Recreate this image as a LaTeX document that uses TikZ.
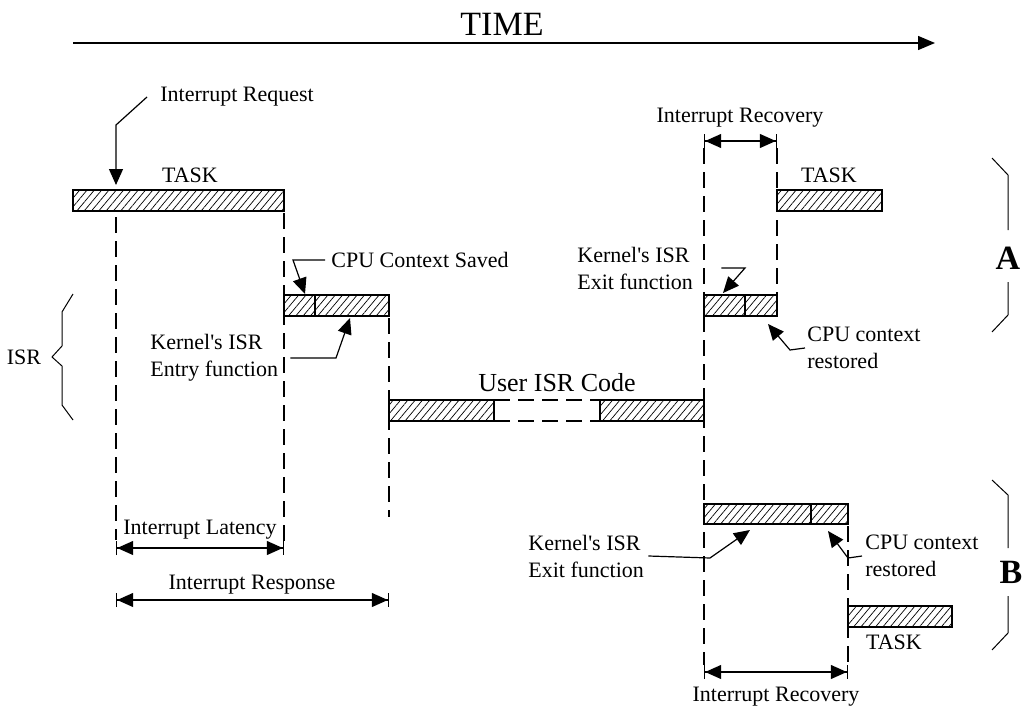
\documentclass[tikz,border=0pt]{standalone}
\usepackage{fontspec}
\setmainfont{Liberation Serif}
\usetikzlibrary{arrows.meta,patterns.meta}

\begin{document}
\begin{tikzpicture}[x=0.5pt,y=0.5pt,yscale=-1
  ,bar/.style={draw=black,line width=0.6pt,pattern={Lines[angle=50,distance=2.8pt,line width=0.35pt]}}
  ,guide/.style={color=black,line width=0.6pt,dash pattern=on 8pt off 4pt}
  ,lead/.style={color=black,line width=0.6pt,-{Triangle[length=8pt,width=7pt]}}
  ,span/.style={color=black,line width=0.6pt,{Bar[width=7pt]Triangle[length=8pt,width=7pt]}-{Triangle[length=8pt,width=7pt]Bar[width=7pt]}}
  ,brace/.style={color=black,line width=0.5pt}
  ,lbl/.style={font=\fontsize{11}{13.5}\selectfont,inner sep=0pt,color=black}
  ,note/.style={lbl,align=left,anchor=west}
  ,big/.style={inner sep=0pt,color=black,font=\fontsize{17}{20}\selectfont}
]
\useasboundingbox (0,0) rectangle (1025,712);

% --- Time axis ---
\coordinate (t0) at (73,43);
\coordinate (t1) at (935,43);
\draw[color=black,line width=0.7pt,-{Triangle[length=8.5pt,width=7pt]}] (t0) -- (t1);
\node (time) at (502,24)[big]{TIME};

% --- Task, ISR and user code bars ---
\draw[bar] (73,190) rectangle (284,211);
\draw[bar] (284,295) rectangle (315,316);
\draw[bar] (315,295) rectangle (389,316);
\draw[bar] (389,400) rectangle (494,421);
\draw[guide] (494,400) -- (600,400) (494,421) -- (600,421);
\draw[bar] (600,400) rectangle (704,421);

% case A
\draw[bar] (704,295) rectangle (745,316);
\draw[bar] (745,295) rectangle (777,316);
\draw[bar] (777,190) rectangle (882,211);

% case B
\draw[bar] (704,504) rectangle (811,524);
\draw[bar] (811,504) rectangle (848,524);
\draw[bar] (848,606) rectangle (952,627);

% --- Dashed time marks ---
\draw[guide] (116,217) -- (116,540);
\draw[guide] (284,213) -- (284,541);
\draw[guide] (389,318) -- (389,517);
\draw[guide] (704,148) -- (704,665);
\draw[guide] (777,148) -- (777,295);
\draw[guide] (848,526) -- (848,665);

% --- Spans ---
\draw[span] (116,548) -- (284,548);
\node (lat) at (200,530)[lbl]{Interrupt Latency};

\draw[span] (116,600) -- (389,600);
\node (resp) at (252,585)[lbl]{Interrupt Response};

\draw[span] (704,141) -- (777,141);
\node (recA) at (740,118)[lbl]{Interrupt Recovery};

\draw[span] (704,672) -- (848,672);
\node (recB) at (776,697)[lbl]{Interrupt Recovery};

% --- Labels with leaders ---
\node (irq) at (160,97)[lbl,anchor=west]{Interrupt Request};
\draw[lead] ([xshift=-6.5pt]irq.west) -- (116,125) -- (116,185);

\node (taskL) at (190,175)[lbl]{TASK};

\node (saved) at (331,260)[lbl,anchor=west]{CPU Context Saved};
\draw[lead] ([xshift=-3pt]saved.west) -- (293,260) -- (305,294);

\node (entry) at (150,358)[note]{Kernel\textquotesingle s ISR\\Entry function};
\draw[lead] ([xshift=6pt]entry.east) -- (336,358) -- (350,318);

\node (isr) at (24,357)[lbl]{ISR};
\draw[brace] (73,294) -- (62,312) -- (62,346) -- (52,357) -- (62,366) -- (62,405) -- (73,420);

\node (user) at (557,383)[lbl,font=\fontsize{13}{15}\selectfont]{User ISR Code};

\node (taskA) at (829,175)[lbl]{TASK};

\node (exitA) at (577,268)[note]{Kernel\textquotesingle s ISR\\Exit function};
\draw[lead] ([xshift=14pt]exitA.east) -- (745,268) -- (723,293);

\node (restA) at (807,348)[note]{CPU context\\restored};
\draw[lead] ([xshift=-1pt]restA.west) -- (790,350) -- (768,324);

\node (exitB) at (528,556)[note]{Kernel\textquotesingle s ISR\\Exit function};
\draw[lead] ([xshift=2pt]exitB.east) -- (710,558) -- (750,530);

\node (restB) at (865,556)[note]{CPU context\\restored};
\draw[lead] ([xshift=-1.5pt]restB.west) -- (848,558) -- (828,531);

\node (taskB) at (894,642)[lbl]{TASK};

% --- Braces A and B ---
\draw[brace] (992,158) -- (1008,175) -- (1008,230);
\draw[brace] (1008,282) -- (1008,315) -- (992,332);
\node (A) at (1008,258)[big,font=\fontsize{17}{20}\selectfont\bfseries]{A};

\draw[brace] (992,480) -- (1008,495) -- (1008,548);
\draw[brace] (1008,596) -- (1008,633) -- (992,650);
\node (B) at (1011,572)[big,font=\fontsize{17}{20}\selectfont\bfseries]{B};

\end{tikzpicture}
\end{document}
